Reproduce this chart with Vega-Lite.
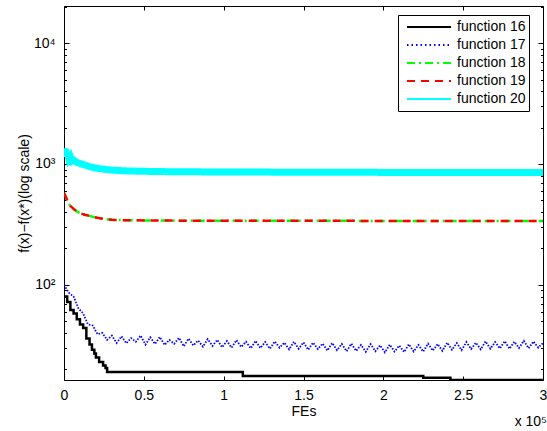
{
  "$schema": "https://vega.github.io/schema/vega-lite/v6.json",
  "width": 479,
  "height": 374,
  "autosize": {"type": "none"},
  "padding": {"left": 64, "top": 6, "right": 4, "bottom": 51},
  "background": "white",
  "title": {"text": "x 10⁵", "orient": "bottom", "anchor": "end", "fontSize": 14, "fontWeight": "normal", "font": "Liberation Sans", "color": "black", "offset": -3},
  "data": {"values": [
    {"f": "function 16", "x": 0, "y": 80}, {"f": "function 16", "x": 2000, "y": 72}, {"f": "function 16", "x": 4000, "y": 62}, {"f": "function 16", "x": 6000, "y": 58}, {"f": "function 16", "x": 8000, "y": 52}, {"f": "function 16", "x": 10000, "y": 47}, {"f": "function 16", "x": 12000, "y": 44}, {"f": "function 16", "x": 14000, "y": 36}, {"f": "function 16", "x": 16000, "y": 32}, {"f": "function 16", "x": 17500, "y": 29}, {"f": "function 16", "x": 19000, "y": 27}, {"f": "function 16", "x": 20000, "y": 25}, {"f": "function 16", "x": 22000, "y": 23}, {"f": "function 16", "x": 24500, "y": 21.5}, {"f": "function 16", "x": 26000, "y": 20.5}, {"f": "function 16", "x": 27000, "y": 19}, {"f": "function 16", "x": 112000, "y": 17.6}, {"f": "function 16", "x": 225000, "y": 17.0}, {"f": "function 16", "x": 242000, "y": 16.3}, {"f": "function 16", "x": 300000, "y": 16.3},

    {"f": "function 17", "x": 0, "y": 100}, {"f": "function 17", "x": 3000, "y": 86}, {"f": "function 17", "x": 6000, "y": 80}, {"f": "function 17", "x": 9000, "y": 64}, {"f": "function 17", "x": 12000, "y": 58}, {"f": "function 17", "x": 15000, "y": 47}, {"f": "function 17", "x": 18000, "y": 46}, {"f": "function 17", "x": 21000, "y": 39}, {"f": "function 17", "x": 24000, "y": 40}, {"f": "function 17", "x": 27000, "y": 35},
    {"f": "function 17", "x": 30000, "y": 38}, {"f": "function 17", "x": 33000, "y": 33}, {"f": "function 17", "x": 36000, "y": 37.5}, {"f": "function 17", "x": 39000, "y": 32.8}, {"f": "function 17", "x": 42000, "y": 36.2}, {"f": "function 17", "x": 45000, "y": 33.8}, {"f": "function 17", "x": 48000, "y": 38}, {"f": "function 17", "x": 51000, "y": 32}, {"f": "function 17", "x": 54000, "y": 36.8}, {"f": "function 17", "x": 57000, "y": 32.4},
    {"f": "function 17", "x": 60000, "y": 37}, {"f": "function 17", "x": 63000, "y": 31.8}, {"f": "function 17", "x": 66000, "y": 35}, {"f": "function 17", "x": 69000, "y": 32.5}, {"f": "function 17", "x": 72000, "y": 36.4}, {"f": "function 17", "x": 75000, "y": 31}, {"f": "function 17", "x": 78000, "y": 35.8}, {"f": "function 17", "x": 81000, "y": 31.5}, {"f": "function 17", "x": 84000, "y": 34.6}, {"f": "function 17", "x": 87000, "y": 30.8},
    {"f": "function 17", "x": 90000, "y": 35.5}, {"f": "function 17", "x": 93000, "y": 31.2}, {"f": "function 17", "x": 96000, "y": 35}, {"f": "function 17", "x": 99000, "y": 30.4}, {"f": "function 17", "x": 102000, "y": 34.2}, {"f": "function 17", "x": 105000, "y": 30.2}, {"f": "function 17", "x": 108000, "y": 34.8}, {"f": "function 17", "x": 111000, "y": 30.6}, {"f": "function 17", "x": 114000, "y": 33.8}, {"f": "function 17", "x": 117000, "y": 29.8},
    {"f": "function 17", "x": 120000, "y": 34.4}, {"f": "function 17", "x": 123000, "y": 30}, {"f": "function 17", "x": 126000, "y": 33.6}, {"f": "function 17", "x": 129000, "y": 29.6}, {"f": "function 17", "x": 132000, "y": 34}, {"f": "function 17", "x": 135000, "y": 30.2}, {"f": "function 17", "x": 138000, "y": 33.2}, {"f": "function 17", "x": 141000, "y": 29.2}, {"f": "function 17", "x": 144000, "y": 33.8}, {"f": "function 17", "x": 147000, "y": 29.6},
    {"f": "function 17", "x": 150000, "y": 33.4}, {"f": "function 17", "x": 153000, "y": 29}, {"f": "function 17", "x": 156000, "y": 33.2}, {"f": "function 17", "x": 159000, "y": 29.4}, {"f": "function 17", "x": 162000, "y": 32.6}, {"f": "function 17", "x": 165000, "y": 28.6}, {"f": "function 17", "x": 168000, "y": 33}, {"f": "function 17", "x": 171000, "y": 28.8}, {"f": "function 17", "x": 174000, "y": 32.4}, {"f": "function 17", "x": 177000, "y": 28.2},
    {"f": "function 17", "x": 180000, "y": 32.6}, {"f": "function 17", "x": 183000, "y": 28.4}, {"f": "function 17", "x": 186000, "y": 31.8}, {"f": "function 17", "x": 189000, "y": 27.9}, {"f": "function 17", "x": 192000, "y": 32.3}, {"f": "function 17", "x": 195000, "y": 28.2}, {"f": "function 17", "x": 198000, "y": 31.6}, {"f": "function 17", "x": 201000, "y": 27.6}, {"f": "function 17", "x": 204000, "y": 32}, {"f": "function 17", "x": 207000, "y": 28},
    {"f": "function 17", "x": 210000, "y": 31.4}, {"f": "function 17", "x": 213000, "y": 27.8}, {"f": "function 17", "x": 216000, "y": 32.2}, {"f": "function 17", "x": 219000, "y": 28.1}, {"f": "function 17", "x": 222000, "y": 31.8}, {"f": "function 17", "x": 225000, "y": 28}, {"f": "function 17", "x": 228000, "y": 32.6}, {"f": "function 17", "x": 231000, "y": 28.5}, {"f": "function 17", "x": 234000, "y": 32.4}, {"f": "function 17", "x": 237000, "y": 28.4},
    {"f": "function 17", "x": 240000, "y": 33.2}, {"f": "function 17", "x": 243000, "y": 29}, {"f": "function 17", "x": 246000, "y": 33}, {"f": "function 17", "x": 249000, "y": 28.8}, {"f": "function 17", "x": 252000, "y": 33.6}, {"f": "function 17", "x": 255000, "y": 29.4}, {"f": "function 17", "x": 258000, "y": 33.2}, {"f": "function 17", "x": 261000, "y": 29.2}, {"f": "function 17", "x": 264000, "y": 34}, {"f": "function 17", "x": 267000, "y": 29.6},
    {"f": "function 17", "x": 270000, "y": 33.6}, {"f": "function 17", "x": 273000, "y": 29.8}, {"f": "function 17", "x": 276000, "y": 34.2}, {"f": "function 17", "x": 279000, "y": 29.6}, {"f": "function 17", "x": 282000, "y": 33.8}, {"f": "function 17", "x": 285000, "y": 30}, {"f": "function 17", "x": 288000, "y": 34.4}, {"f": "function 17", "x": 291000, "y": 29.8}, {"f": "function 17", "x": 294000, "y": 34}, {"f": "function 17", "x": 297000, "y": 30.2}, {"f": "function 17", "x": 300000, "y": 33},

    {"f": "function 18", "x": 0, "y": 575}, {"f": "function 18", "x": 1000, "y": 540}, {"f": "function 18", "x": 2000, "y": 500}, {"f": "function 18", "x": 3000, "y": 470}, {"f": "function 18", "x": 4000, "y": 450}, {"f": "function 18", "x": 6000, "y": 425}, {"f": "function 18", "x": 8000, "y": 405}, {"f": "function 18", "x": 10000, "y": 392}, {"f": "function 18", "x": 13000, "y": 380}, {"f": "function 18", "x": 16000, "y": 372}, {"f": "function 18", "x": 20000, "y": 360}, {"f": "function 18", "x": 25000, "y": 350}, {"f": "function 18", "x": 30000, "y": 345}, {"f": "function 18", "x": 40000, "y": 342}, {"f": "function 18", "x": 60000, "y": 340}, {"f": "function 18", "x": 100000, "y": 339}, {"f": "function 18", "x": 200000, "y": 338}, {"f": "function 18", "x": 300000, "y": 338},

    {"f": "function 19", "x": 0, "y": 575}, {"f": "function 19", "x": 1000, "y": 540}, {"f": "function 19", "x": 2000, "y": 500}, {"f": "function 19", "x": 3000, "y": 470}, {"f": "function 19", "x": 4000, "y": 450}, {"f": "function 19", "x": 6000, "y": 425}, {"f": "function 19", "x": 8000, "y": 405}, {"f": "function 19", "x": 10000, "y": 392}, {"f": "function 19", "x": 13000, "y": 380}, {"f": "function 19", "x": 16000, "y": 372}, {"f": "function 19", "x": 20000, "y": 360}, {"f": "function 19", "x": 25000, "y": 350}, {"f": "function 19", "x": 30000, "y": 345}, {"f": "function 19", "x": 40000, "y": 342}, {"f": "function 19", "x": 60000, "y": 340}, {"f": "function 19", "x": 100000, "y": 339}, {"f": "function 19", "x": 200000, "y": 338}, {"f": "function 19", "x": 300000, "y": 338},

    {"f": "function 20", "x": 0, "y": 1350}, {"f": "function 20", "x": 500, "y": 1200}, {"f": "function 20", "x": 1000, "y": 1320}, {"f": "function 20", "x": 1500, "y": 1150}, {"f": "function 20", "x": 2000, "y": 1250}, {"f": "function 20", "x": 3000, "y": 1100}, {"f": "function 20", "x": 4000, "y": 1150}, {"f": "function 20", "x": 5000, "y": 1060}, {"f": "function 20", "x": 6000, "y": 1080}, {"f": "function 20", "x": 8000, "y": 1030}, {"f": "function 20", "x": 10000, "y": 1010}, {"f": "function 20", "x": 13000, "y": 980}, {"f": "function 20", "x": 16000, "y": 950}, {"f": "function 20", "x": 20000, "y": 925}, {"f": "function 20", "x": 25000, "y": 905}, {"f": "function 20", "x": 30000, "y": 890}, {"f": "function 20", "x": 40000, "y": 875}, {"f": "function 20", "x": 60000, "y": 865}, {"f": "function 20", "x": 100000, "y": 858}, {"f": "function 20", "x": 200000, "y": 852}, {"f": "function 20", "x": 300000, "y": 850}
  ]},
  "resolve": {"axis": {"x": "independent", "y": "independent"}},
  "encoding": {
    "x": {"field": "x", "type": "quantitative", "scale": {"domain": [0, 300000], "nice": false, "zero": false}},
    "y": {"field": "y", "type": "quantitative", "scale": {"type": "log", "domain": [16.3, 20300], "nice": false}},
    "color": {"field": "f", "type": "nominal", "scale": {"domain": ["function 16", "function 17", "function 18", "function 19", "function 20"], "range": ["#000000", "#0000ff", "#00ff00", "#ff0000", "#00ffff"]}, "legend": {"title": null}},
    "strokeDash": {"field": "f", "type": "nominal", "scale": {"domain": ["function 16", "function 17", "function 18", "function 19", "function 20"], "range": [[1, 0], [1.5, 3], [8, 4, 2, 4], [8, 6], [1, 0]]}, "legend": {"title": null}}
  },
  "layer": [
    {
      "transform": [{"filter": "datum.f == 'function 16'"}],
      "mark": {"type": "line", "interpolate": "step-after", "strokeWidth": 2.5, "clip": true},
      "encoding": {
        "x": {"field": "x", "type": "quantitative", "axis": {"orient": "bottom", "title": "FEs", "values": [0, 50000, 100000, 150000, 200000, 250000, 300000], "labelExpr": "format(datum.value / 100000, '~g')", "tickSize": -4, "labelPadding": 12, "titlePadding": 2, "domain": false, "labelFlush": false}},
        "y": {"field": "y", "type": "quantitative", "axis": {"orient": "left", "title": "f(x)−f(x*)(log scale)", "values": [20, 30, 40, 50, 60, 70, 80, 90, 100, 200, 300, 400, 500, 600, 700, 800, 900, 1000, 2000, 3000, 4000, 5000, 6000, 7000, 8000, 9000, 10000, 20000], "labelExpr": "datum.value == 100 ? '10²' : datum.value == 1000 ? '10³' : datum.value == 10000 ? '10⁴' : ''", "tickSize": {"condition": {"test": "datum.value == 100 || datum.value == 1000 || datum.value == 10000", "value": -5}, "value": -2.5}, "labelPadding": 14, "titlePadding": 2, "domain": false}}
      }
    },
    {
      "transform": [{"filter": "datum.f == 'function 17'"}],
      "mark": {"type": "line", "strokeWidth": 1.8, "clip": true},
      "encoding": {"x": {"field": "x", "type": "quantitative", "axis": null}, "y": {"field": "y", "type": "quantitative", "axis": null}, "strokeDash": {"value": [1.5, 1.5]}}
    },
    {
      "transform": [{"filter": "datum.f == 'function 18'"}],
      "mark": {"type": "line", "strokeWidth": 2.5, "clip": true},
      "encoding": {"x": {"field": "x", "type": "quantitative", "axis": null}, "y": {"field": "y", "type": "quantitative", "axis": null}}
    },
    {
      "transform": [{"filter": "datum.f == 'function 19'"}],
      "mark": {"type": "line", "strokeWidth": 2.5, "clip": true},
      "encoding": {"x": {"field": "x", "type": "quantitative", "axis": null}, "y": {"field": "y", "type": "quantitative", "axis": null}}
    },
    {
      "transform": [{"filter": "datum.f == 'function 20'"}],
      "mark": {"type": "line", "strokeWidth": 7, "clip": true},
      "encoding": {"x": {"field": "x", "type": "quantitative", "axis": null}, "y": {"field": "y", "type": "quantitative", "axis": null}}
    },
    {
      "transform": [{"filter": "datum.f == 'function 20'"}],
      "mark": {"type": "line", "opacity": 0},
      "encoding": {
        "x": {"field": "x", "type": "quantitative", "axis": {"orient": "top", "title": null, "labels": false, "domain": false, "values": [0, 50000, 100000, 150000, 200000, 250000, 300000], "tickSize": -4}},
        "y": {"field": "y", "type": "quantitative", "axis": {"orient": "right", "title": null, "labels": false, "domain": false, "values": [20, 30, 40, 50, 60, 70, 80, 90, 100, 200, 300, 400, 500, 600, 700, 800, 900, 1000, 2000, 3000, 4000, 5000, 6000, 7000, 8000, 9000, 10000, 20000], "tickSize": {"condition": {"test": "datum.value == 100 || datum.value == 1000 || datum.value == 10000", "value": -5}, "value": -2.5}}},
        "color": {"value": "white"},
        "strokeDash": {"value": [1, 0]}
      }
    }
  ],
  "config": {
    "view": {"stroke": "black", "strokeWidth": 1},
    "font": "Liberation Sans",
    "axis": {"grid": false, "domainColor": "black", "tickColor": "black", "labelColor": "black", "titleColor": "black", "labelFont": "Liberation Sans", "titleFont": "Liberation Sans", "labelFontSize": 14, "titleFontSize": 14, "titleFontWeight": "normal"},
    "legend": {"orient": "none", "legendX": 334, "legendY": 9, "strokeColor": "black", "fillColor": "white", "padding": 3, "symbolOffset": 5, "labelFont": "Liberation Sans", "labelFontSize": 14, "labelColor": "black", "symbolType": "stroke", "symbolSize": 1936, "symbolStrokeWidth": 2, "labelOffset": 5, "clipHeight": 18, "rowPadding": 0, "labelLimit": 200, "labelExpr": "datum.label + '  '"}
  }
}
